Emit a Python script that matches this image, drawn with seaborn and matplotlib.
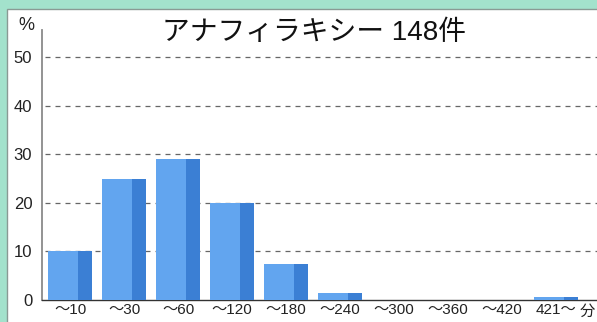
import numpy as np
import matplotlib
matplotlib.use('Agg')
import matplotlib.pyplot as plt
import seaborn as sns
from matplotlib.patches import Rectangle

# データ (アナフィラキシー 148件, 発症までの時間 分)
categories = ['〜10', '〜30', '〜60', '〜120', '〜180', '〜240', '〜300', '〜360', '〜420', '421〜']
percent = [10, 25, 29, 20, 7.5, 1.4, 0, 0, 0, 0.7]
yticks = [0, 10, 20, 30, 40, 50]
title = 'アナフィラキシー 148件'

sns.set_style('white')
plt.rcParams['font.family'] = ['Liberation Sans', 'Noto Sans CJK JP', 'DejaVu Sans']

mint = '#a3e2cc'
light_blue = '#62a5ef'
dark_blue = '#3b7fd4'

fig = plt.figure(figsize=(5.97, 3.22), dpi=100, facecolor=mint)
# 白いパネル
fig.patches.append(Rectangle((7 / 597, -0.01), 1.0, 0.982, transform=fig.transFigure,
                             facecolor='white', edgecolor='#8a9a94', linewidth=1.0, zorder=-10))

ax = fig.add_axes([42 / 597, 1 - 300 / 322, 1 - 42 / 597, 270 / 322])
ax.set_facecolor('none')

sns.barplot(x=categories, y=percent, color=light_blue, width=0.82, saturation=1,
            linewidth=0, ax=ax, zorder=3)
# 右側の濃い部分
ax.bar(np.arange(len(categories)) + 0.28, percent, width=0.26, color=dark_blue, linewidth=0, zorder=4)

ax.set_xlim(-0.52, 9.76)
ax.set_ylim(0, 55.6)
ax.set_yticks(yticks)
ax.set_yticklabels([str(v) for v in yticks], fontsize=12, color='#222222')
ax.tick_params(axis='y', length=0, pad=7)
ax.tick_params(axis='x', length=0, pad=2, labelsize=11, labelcolor='#222222')

for v in yticks[1:]:
    ax.axhline(v, xmin=0.005, color='#666666', linestyle=(0, (4, 4)), linewidth=0.9, zorder=1)

ax.set_xlabel('')
ax.set_ylabel('')
for s in ['top', 'right']:
    ax.spines[s].set_visible(False)
ax.spines['left'].set_color('#8a8a8a')
ax.spines['left'].set_linewidth(1.3)
ax.spines['bottom'].set_color('#333333')
ax.spines['bottom'].set_linewidth(1.0)

ax.text(9.58, -0.045, '分', transform=ax.get_xaxis_transform(), ha='center', va='center',
        fontsize=11, color='#222222', clip_on=False)
fig.text(26 / 597, 1 - 26 / 322, '%', ha='center', va='center', fontsize=13, color='#222222')
fig.text(314 / 597, 1 - 33 / 322, title, ha='center', va='center', fontsize=20, color='#111111')

fig.savefig('out.png', dpi=100, facecolor=mint)
